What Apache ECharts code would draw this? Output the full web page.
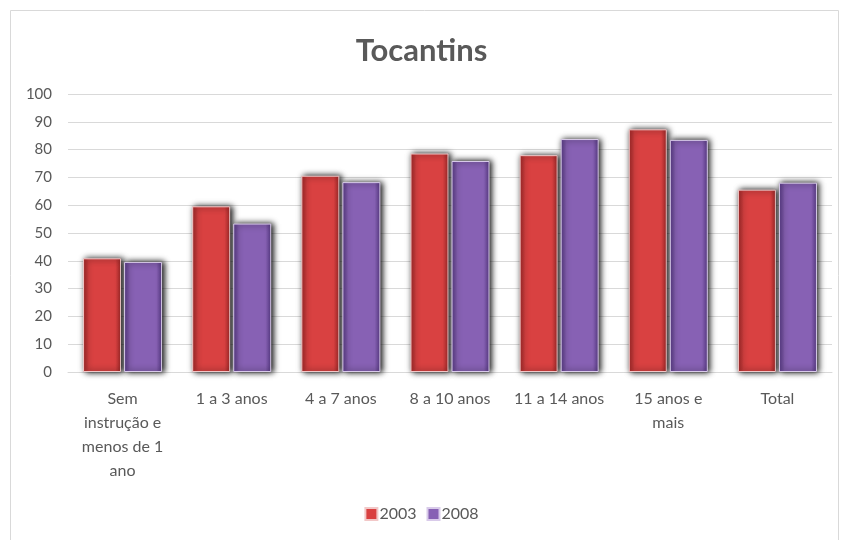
<!DOCTYPE html>
<html>
<head>
<meta charset="utf-8">
<script src="https://cdn.jsdelivr.net/npm/echarts@6/dist/echarts.min.js"></script>
<style>
    html, body { margin: 0; padding: 0; background: #fff; }
    #container { width: 843px; height: 540px; }
</style>
</head>
<body>
<div id="container"></div>
<script>
// valores
let categories = ['Sem\ninstrução e\nmenos de 1\nano', '1 a 3 anos', '4 a 7 anos', '8 a 10 anos', '11 a 14 anos', '15 anos e\nmais', 'Total']
let values2003 = [40.9, 59.6, 70.6, 78.6, 78.0, 87.3, 65.6]
let values2008 = [39.6, 53.4, 68.3, 75.9, 83.8, 83.5, 68.1]
let yTicks = [0, 100, 10]

const font = 'Lato, "Open Sans", sans-serif'

function barGradient(edge, mid) {
    return new echarts.graphic.LinearGradient(0, 0, 1, 0, [
        { offset: 0, color: edge },
        { offset: 0.15, color: mid },
        { offset: 0.85, color: mid },
        { offset: 1, color: edge }
    ])
}

let options = {
    animation: false,
    backgroundColor: '#fff',
    title: {
        text: 'Tocantins',
        left: 'center',
        top: 30,
        textStyle: {
            fontFamily: font,
            fontSize: 31,
            fontWeight: 'bold',
            color: '#595959'
        }
    },
    legend: {
        bottom: 13,
        left: 'center',
        itemWidth: 12,
        itemHeight: 12,
        itemGap: 10,
        icon: 'rect',
        textStyle: { fontFamily: font, fontSize: 16, color: '#595959', padding: [0, 0, 0, -3] },
        data: ['2003', '2008']
    },
    grid: {
        left: 68,
        right: 11,
        top: 94,
        bottom: 168
    },
    xAxis: {
        type: 'category',
        data: categories,
        axisLine: { lineStyle: { color: '#d9d9d9' } },
        axisTick: { show: false },
        axisLabel: {
            interval: 0,
            margin: 15,
            fontFamily: font,
            fontSize: 16,
            lineHeight: 24,
            color: '#595959'
        }
    },
    yAxis: {
        type: 'value',
        min: yTicks[0],
        max: yTicks[1],
        interval: yTicks[2],
        axisLine: { show: false },
        axisTick: { show: false },
        axisLabel: {
            margin: 16,
            fontFamily: font,
            fontSize: 15,
            color: '#595959'
        },
        splitLine: { lineStyle: { color: '#d9d9d9' } }
    },
    series: [
        {
            name: '2003',
            type: 'bar',
            data: values2003,
            barWidth: 38,
            barGap: '8%',
            itemStyle: {
                color: barGradient('#a82a2a', '#d94141'),
                borderColor: '#f2c8c8',
                borderWidth: 1,
                shadowColor: '#000',
                shadowBlur: 6,
                shadowOffsetX: 2,
                shadowOffsetY: 0
            }
        },
        {
            name: '2008',
            type: 'bar',
            data: values2008,
            barWidth: 38,
            itemStyle: {
                color: barGradient('#5b3c8a', '#8761b4'),
                borderColor: '#d9cbea',
                borderWidth: 1,
                shadowColor: '#000',
                shadowBlur: 6,
                shadowOffsetX: 2,
                shadowOffsetY: 0
            }
        }
    ],
    graphic: {
        elements: [
            {
                type: 'rect',
                left: 8,
                top: 8,
                shape: { width: 828, height: 530 },
                style: { fill: 'none', stroke: '#d9d9d9', lineWidth: 1 },
                silent: true
            }
        ]
    }
}

let mychart = echarts.init(document.getElementById('container'))
mychart.setOption(options)
</script>
</body>
</html>
